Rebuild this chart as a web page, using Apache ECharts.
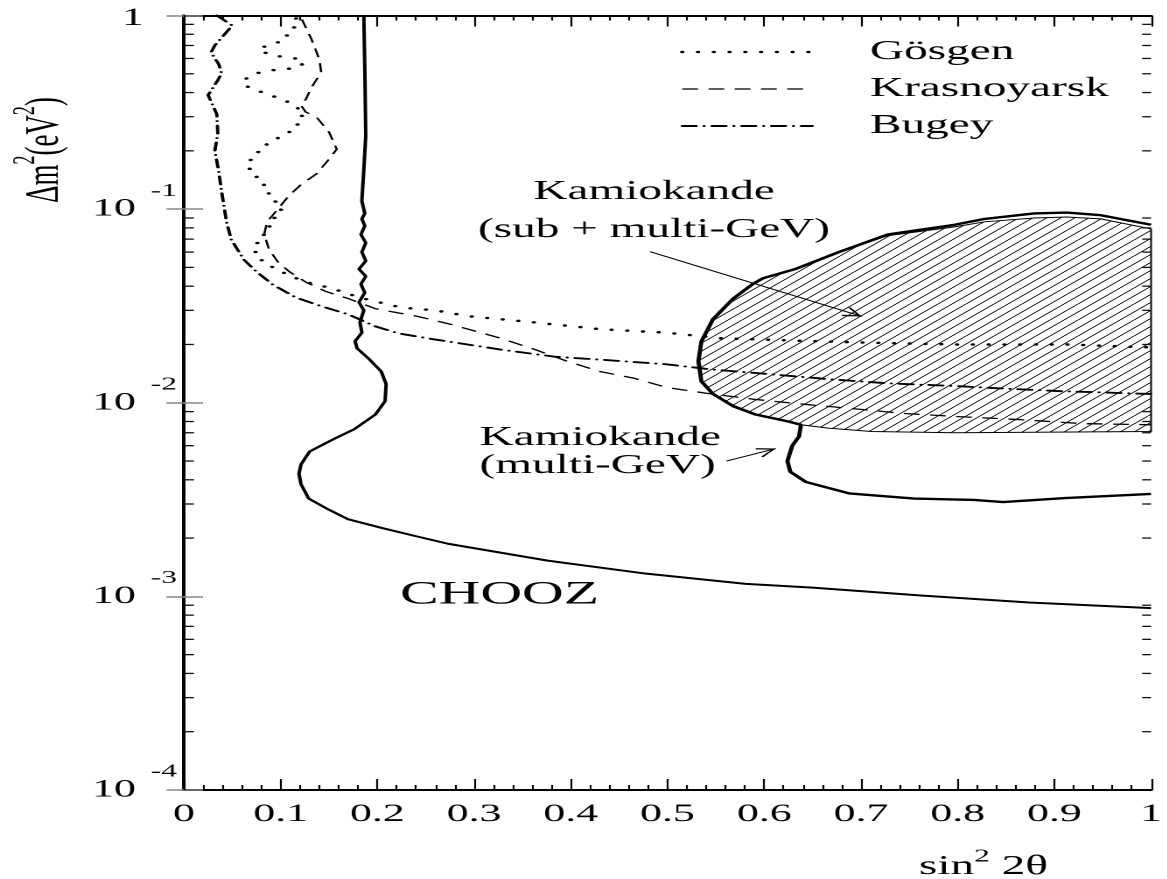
<!DOCTYPE html>
<html>
<head>
<meta charset="utf-8">
<title>CHOOZ exclusion plot</title>
<script src="https://cdn.jsdelivr.net/npm/echarts@6/dist/echarts.min.js"></script>
<style>
html, body { margin: 0; padding: 0; background: #fff; overflow: hidden; }
/* the original figure is stretched sideways: draw it narrow, then widen it */
#main { width: 667px; height: 879px; transform: scaleX(1.75); transform-origin: 0 0; }
</style>
</head>
<body>
<div id="main"></div>
<script>
// sin^2 2theta , delta m^2 (eV^2)

var gosgen = [
	[0.116,0.965],[0.114,0.868],[0.101,0.735],[0.085,0.701],[0.078,0.661],[0.091,0.622],[0.107,0.608],
	[0.122,0.593],[0.122,0.553],[0.106,0.527],[0.090,0.521],[0.075,0.503],[0.063,0.468],[0.065,0.431],
	[0.075,0.411],[0.090,0.387],[0.106,0.361],[0.124,0.317],[0.116,0.265],[0.106,0.244],[0.095,0.230],
	[0.083,0.212],[0.075,0.193],[0.068,0.177],[0.068,0.161],[0.075,0.147],[0.083,0.133],[0.088,0.120],
	[0.095,0.109],[0.101,0.100],[0.095,0.093],[0.091,0.085],[0.083,0.074],[0.076,0.067],[0.074,0.060],
	[0.081,0.054],[0.095,0.049],[0.111,0.045],[0.126,0.042],[0.153,0.039],[0.181,0.035],[0.225,0.031],
	[0.260,0.030],[0.294,0.028],[0.362,0.026],[0.430,0.024],[0.499,0.023],[0.557,0.0215],[0.625,0.021],
	[0.694,0.0205],[0.797,0.020],[0.913,0.020],[1.0,0.0193]
];

var krasnoyarsk = [
	[0.122,0.954],[0.132,0.752],[0.140,0.593],[0.142,0.509],[0.132,0.426],[0.126,0.369],[0.121,0.344],
	[0.126,0.317],[0.137,0.299],[0.150,0.250],[0.158,0.204],[0.150,0.181],[0.137,0.152],[0.122,0.135],
	[0.109,0.118],[0.097,0.100],[0.086,0.086],[0.083,0.074],[0.088,0.062],[0.097,0.0535],[0.109,0.0475],
	[0.126,0.042],[0.147,0.0375],[0.170,0.0345],[0.198,0.0306],[0.242,0.0279],[0.276,0.0254],[0.328,0.0215],
	[0.362,0.0189],[0.396,0.0164],[0.430,0.0145],[0.465,0.0134],[0.499,0.0120],[0.540,0.0112],[0.591,0.0104],
	[0.643,0.0098],[0.694,0.0093],[0.745,0.0088],[0.797,0.0085],[0.861,0.0082],[0.930,0.0078],[1.0,0.0077]
];

var bugey = [
	[0.034,1.0],[0.050,0.888],[0.032,0.701],[0.028,0.645],[0.036,0.560],[0.039,0.503],[0.035,0.463],
	[0.025,0.388],[0.034,0.309],[0.035,0.247],[0.032,0.200],[0.036,0.156],[0.039,0.123],[0.044,0.086],
	[0.049,0.0695],[0.062,0.0548],[0.075,0.0475],[0.092,0.0407],[0.116,0.0349],[0.143,0.0314],[0.170,0.0286],
	[0.198,0.0248],[0.222,0.0228],[0.260,0.0212],[0.328,0.0188],[0.383,0.0173],[0.430,0.0167],[0.499,0.0158],
	[0.543,0.0149],[0.609,0.0140],[0.670,0.0132],[0.728,0.0126],[0.797,0.0122],[0.838,0.0119],[0.902,0.0115],
	[1.0,0.0111]
];

var chooz = [
	[0.186,1.0],[0.187,0.53],[0.188,0.24],[0.186,0.16],[0.184,0.11],[0.187,0.095],[0.184,0.089],
	[0.187,0.082],[0.183,0.074],[0.188,0.067],[0.184,0.060],[0.188,0.054],[0.181,0.049],[0.188,0.045],
	[0.183,0.041],[0.187,0.037],[0.181,0.033],[0.186,0.030],[0.182,0.026],[0.184,0.023],
	[0.177,0.0208],[0.179,0.0191],[0.191,0.0169],[0.204,0.0145],[0.209,0.0125],[0.208,0.0102],[0.198,0.0087],
	[0.176,0.0073],[0.155,0.0065],[0.130,0.0056],[0.121,0.0048],[0.119,0.0043],[0.121,0.0038],[0.129,0.0032],
	[0.150,0.0028],[0.170,0.0025],[0.204,0.00226],[0.239,0.00205],[0.273,0.00187],[0.376,0.00153],
	[0.478,0.00131],[0.581,0.00116],[0.650,0.00111],[0.762,0.00101],[0.874,0.00093],[1.0,0.00087]
];

// Kamiokande multi-GeV (thick contour, open at the right edge)
var kamMulti = [
	[1.0,0.083],[0.948,0.093],[0.913,0.096],[0.879,0.095],[0.828,0.089],[0.797,0.083],[0.728,0.074],
	[0.677,0.060],[0.632,0.049],[0.599,0.044],[0.588,0.041],[0.568,0.0345],[0.547,0.027],[0.535,0.0207],
	[0.532,0.0164],[0.535,0.0129],[0.547,0.0111],[0.568,0.0096],[0.591,0.0087],[0.625,0.0080],[0.638,0.0077],
	[0.636,0.0067],[0.629,0.0060],[0.624,0.0050],[0.627,0.0044],[0.643,0.0039],[0.688,0.0034],[0.755,0.0032],
	[0.817,0.00315],[0.847,0.00307],[0.911,0.00322],[1.0,0.00338]
];

// Kamiokande sub + multi-GeV (hatched region)
var kamSubMulti = [
	[1.0,0.079],[0.948,0.089],[0.913,0.091],[0.879,0.090],[0.828,0.086],[0.797,0.081],[0.728,0.073],
	[0.677,0.060],[0.632,0.049],[0.599,0.044],[0.588,0.041],[0.568,0.0345],[0.547,0.027],[0.535,0.0207],
	[0.532,0.0164],[0.535,0.0129],[0.547,0.0111],[0.568,0.0096],[0.591,0.0087],[0.625,0.0080],[0.638,0.0077],
	[0.666,0.0074],[0.711,0.0071],[0.797,0.0070],[1.0,0.0071]
];

// annotation arrows: [from, to]
var arrowSub = [[0.482,0.0603],[0.701,0.0279]];
var arrowMulti = [[0.561,0.0050],[0.612,0.0058]];

var logMinorTicks = [];
[1e-4, 1e-3, 1e-2, 1e-1].forEach(function (d) {
	for (var k = 2; k <= 9; k++) logMinorTicks.push(k * d);
});

var FONT = 'Liberation Serif';

// diagonal hatching
var hatch = document.createElement('canvas');
hatch.width = 32;
hatch.height = 32;
var g = hatch.getContext('2d');
g.strokeStyle = '#000';
g.lineWidth = 1.4;
for (var c = -32; c <= 64; c += 16) {
	g.beginPath();
	g.moveTo(c, 32);
	g.lineTo(c + 32, 0);
	g.stroke();
}
var hatchFill = { image: hatch, repeat: 'repeat', scaleX: 0.5, scaleY: 0.5 };

var arrowHead = 'path://M-0.01,-19.5L0.01,-19.5L0,-19.49Z M0,0L10,18L8,19.5L0,4.5L-8,19.5L-10,18Z';

var myChart = echarts.init(document.getElementById('main'), null, { devicePixelRatio: 2 });

function xAxisOpt(pos) {
	return {
		type: 'value', min: 0, max: 1, interval: 0.1, position: pos,
		axisLine: { onZero: false, lineStyle: { color: '#000', width: 2 } },
		axisTick: { inside: true, length: 11, lineStyle: { color: '#000', width: 1.1 } },
		minorTick: { show: true, splitNumber: 5, length: 5, lineStyle: { color: '#000', width: 1.1 } },
		axisLabel: {
			show: pos === 'bottom', margin: 12, fontSize: 25, fontFamily: FONT, color: '#000',
			showMinLabel: true, showMaxLabel: true
		},
		splitLine: { show: false }
	};
}

function yAxisOpt(pos) {
	return {
		type: 'log', logBase: 10, min: 1e-4, max: 1, position: pos,
		axisLine: { lineStyle: { color: '#000', width: 2 } },
		axisTick: { inside: true, length: pos === 'left' ? 10.9 : 10, lineStyle: { color: '#888', width: 1.5 } },
		axisLabel: {
			show: pos === 'left', margin: 4, color: '#000', fontFamily: FONT,
			showMinLabel: true, showMaxLabel: true,
			formatter: function (v) {
				var e = Math.round(Math.log(v) / Math.LN10);
				return e === 0 ? '{one|1}' : '{b|10}{s|' + e + '}';
			},
			rich: {
				b: { fontSize: 25, lineHeight: 54, fontFamily: FONT, color: '#000' },
				s: { fontSize: 18, lineHeight: 18, verticalAlign: 'top', padding: [0, 0, 0, 8.5], fontFamily: FONT, color: '#000' },
				one: { fontSize: 25, lineHeight: 25, padding: [6, 19, 0, 0], fontFamily: FONT, color: '#000' }
			}
		},
		splitLine: { show: false }
	};
}

var option = {
	animation: false,
	backgroundColor: '#fff',
	textStyle: { fontFamily: FONT, color: '#000' },
	grid: { left: 105.1, right: 5.3, top: 13, bottom: 89 },
	legend: {
		data: ['Gösgen', 'Krasnoyarsk', 'Bugey'],
		orient: 'vertical', left: 388.6, top: 33, padding: 0,
		itemWidth: 74.3, itemHeight: 14, itemGap: -1,
		selectedMode: false,
		itemStyle: { opacity: 0 },
		lineStyle: { width: 'inherit' },
		textStyle: { fontFamily: FONT, fontSize: 27, color: '#000', lineHeight: 14, padding: [0, 0, 24, 28] }
	},
	xAxis: [xAxisOpt('bottom'), xAxisOpt('top')],
	yAxis: [yAxisOpt('left'), yAxisOpt('right')],
	graphic: [
		{ type: 'text', x: 373.7, y: 211, silent: true,
			style: { text: 'Kamiokande\n(sub + multi-GeV)', fontSize: 27, fontFamily: FONT, lineHeight: 38,
				textAlign: 'center', textVerticalAlign: 'middle', fill: '#000' } },
		{ type: 'text', x: 274, y: 452, silent: true,
			style: { text: 'Kamiokande\n(multi-GeV)', fontSize: 27, fontFamily: FONT, lineHeight: 28,
				textAlign: 'left', textVerticalAlign: 'middle', fill: '#000' } },
		{ type: 'text', x: 228.6, y: 595, silent: true,
			style: { text: 'CHOOZ', fontSize: 33, fontFamily: FONT,
				textAlign: 'left', textVerticalAlign: 'middle', fill: '#000' } },
		{ type: 'text', x: 25.7, y: 150, rotation: Math.PI / 2, silent: true,
			style: { text: '{a|Δm}{s|2}{a|(eV}{s|2}{a|)}', textAlign: 'center', textVerticalAlign: 'middle',
				rich: {
					a: { fontSize: 27, lineHeight: 40, fontFamily: FONT, color: '#000' },
					s: { fontSize: 18, lineHeight: 18, verticalAlign: 'top', fontFamily: FONT, color: '#000' }
				} } },
		{ type: 'text', x: 562, y: 867, silent: true,
			style: { text: '{a|sin}{s|2}{a| 2θ}', textAlign: 'center', textVerticalAlign: 'middle',
				rich: {
					a: { fontSize: 27, lineHeight: 38, fontFamily: FONT, color: '#000' },
					s: { fontSize: 18, lineHeight: 18, verticalAlign: 'top', fontFamily: FONT, color: '#000' }
				} } }
	],
	series: [
		{
			name: 'Kamiokande (sub + multi-GeV)',
			type: 'custom',
			data: kamSubMulti,
			clip: true, silent: true, z: 1,
			renderItem: function (params, api) {
				if (params.dataIndex !== 0) return null;
				var pts = kamSubMulti.map(function (p) { return api.coord(p); });
				return {
					type: 'polygon',
					shape: { points: pts },
					style: { fill: hatchFill, stroke: '#000', lineWidth: 1 }
				};
			}
		},
		{
			name: 'Gösgen', type: 'line', data: gosgen, symbol: 'none', z: 3,
			lineStyle: { color: '#000', width: 2.5, type: [0.01, 9], cap: 'round' }
		},
		{
			name: 'Krasnoyarsk', type: 'line', data: krasnoyarsk, symbol: 'none', z: 3,
			lineStyle: { color: '#000', width: 1.3, type: [9, 6] }
		},
		{
			name: 'Bugey', type: 'line', data: bugey, symbol: 'none', z: 3,
			lineStyle: { color: '#000', width: 1.9, type: [8, 4.5, 0.01, 4.5], cap: 'round' }
		},
		{
			name: 'CHOOZ', type: 'line', data: chooz, symbol: 'none', z: 4,
			lineStyle: { color: '#000', width: 2 }
		},
		{
			name: 'Kamiokande (multi-GeV)', type: 'line', data: kamMulti, symbol: 'none', z: 4,
			lineStyle: { color: '#000', width: 2.4 },
			markLine: {
				silent: true, animation: false,
				symbol: ['none', arrowHead],
				lineStyle: { color: '#000', width: 1, type: 'solid' },
				label: { show: false },
				emphasis: { disabled: true },
				data: [
					[{ coord: arrowSub[0] }, { coord: arrowSub[1], symbolSize: [10, 22] }],
					[{ coord: arrowMulti[0] }, { coord: arrowMulti[1], symbolSize: [10, 22] }]
				]
			}
		},
		{
			name: 'log minor ticks',
			type: 'custom',
			data: logMinorTicks.map(function (v) { return [0, v]; }),
			silent: true, z: 5,
			renderItem: function (params, api) {
				var y = api.coord([0, api.value(1)])[1];
				var left = params.coordSys.x;
				var right = params.coordSys.x + params.coordSys.width;
				return {
					type: 'group',
					children: [
						{ type: 'line', shape: { x1: left, y1: y, x2: left + 5.7, y2: y }, style: { stroke: '#111', lineWidth: 1.3 } },
						{ type: 'line', shape: { x1: right - 5.1, y1: y, x2: right, y2: y }, style: { stroke: '#111', lineWidth: 1.3 } }
					]
				};
			}
		}
	]
};

myChart.setOption(option);
</script>
</body>
</html>
